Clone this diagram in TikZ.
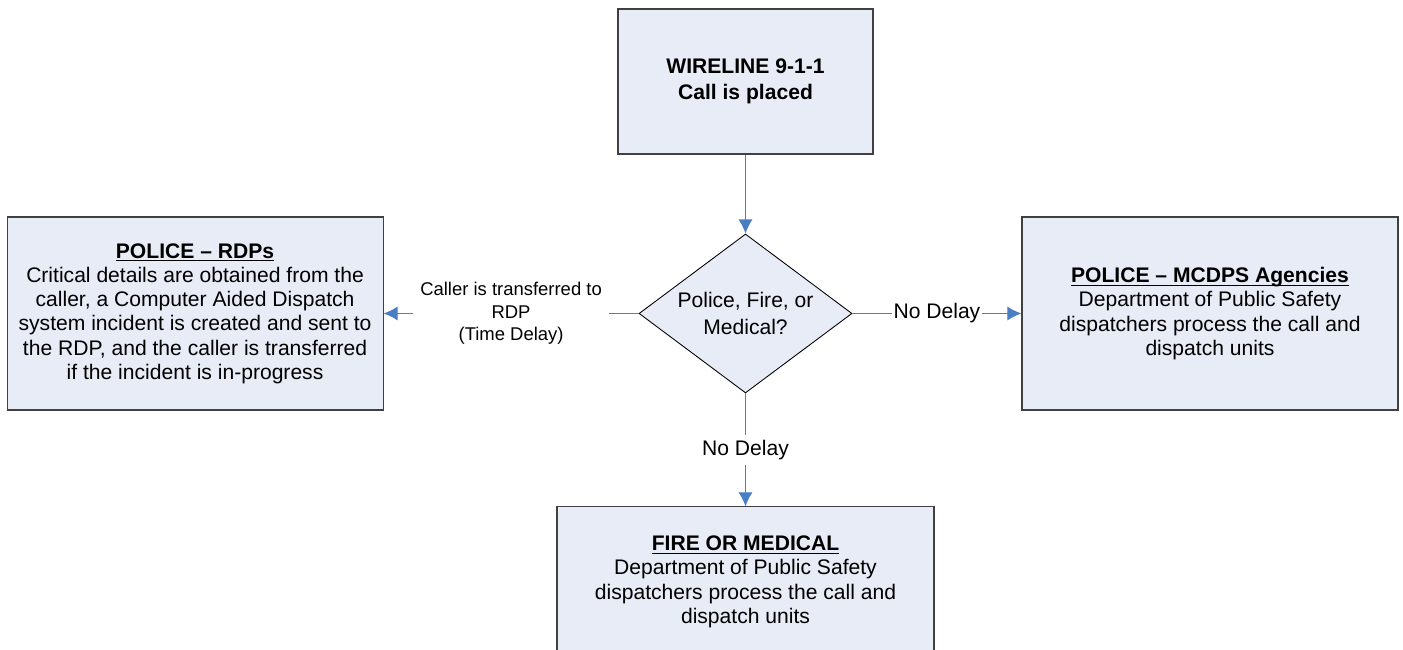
\documentclass[tikz,border=0pt]{standalone}
\usepackage{fontspec}
\setmainfont{Liberation Sans}
\usetikzlibrary{arrows.meta, positioning, shapes.geometric}
\definecolor{boxfill}{RGB}{231,236,246}
\definecolor{boxline}{RGB}{64,64,64}
\definecolor{flowblue}{RGB}{74,126,196}
\newcommand{\boxhead}[1]{\underline{\raisebox{0pt}[\height][0pt]{\textbf{#1}}}}

\begin{document}
\begin{tikzpicture}[
    box/.style={rectangle, draw=boxline, fill=boxfill, line width=0.6pt, minimum width=7.52cm, minimum height=3.86cm, align=center, font=\fontsize{12}{13.8}\selectfont},
    decision/.style={diamond, draw=black, fill=boxfill, line width=0.5pt, aspect=1.34, inner sep=0pt, minimum width=4.26cm, minimum height=3.18cm, align=center, font=\fontsize{12}{15}\selectfont},
    arrow/.style={-{Latex[length=8pt, width=8pt]}, flowblue, line width=0.6pt},
    flowlabel/.style={fill=white, inner sep=1pt, text=black, align=center, font=\fontsize{12}{14}\selectfont}
]
\useasboundingbox (0,0) rectangle (28.06,-12.98);

\node[box, minimum width=5.1cm, minimum height=2.9cm, font=\fontsize{12}{14.7}\selectfont\bfseries] (call) at (14.91,-1.63) {WIRELINE 9-1-1\\Call is placed};
\node[decision, below=1.58cm of call] (choice) {Police, Fire, or\\Medical?};

\node[box, left=5.1cm of choice] (rdp) {\boxhead{POLICE – RDPs}\\Critical details are obtained from the\\caller, a Computer Aided Dispatch\\system incident is created and sent to\\the RDP, and the caller is transferred\\if the incident is in-progress};
\node[box, right=3.38cm of choice] (mcdps) {\boxhead{POLICE – MCDPS Agencies}\\Department of Public Safety\\dispatchers process the call and\\dispatch units};
\node[box, below=2.26cm of choice, minimum width=7.54cm, minimum height=3cm] (firemed) {\boxhead{FIRE OR MEDICAL}\\Department of Public Safety\\dispatchers process the call and\\dispatch units};

\draw[arrow] (call) -- (choice);
\draw[arrow] (choice) -- (rdp) node[midway, flowlabel, inner sep=4pt, font=\fontsize{10.5}{12.75}\selectfont] {Caller is transferred to\\RDP\\(Time Delay)};
\draw[arrow] (choice) -- (mcdps) node[midway, flowlabel] {No Delay};
\draw[arrow] (choice) -- (firemed) node[midway, flowlabel, inner sep=3pt] {No Delay};

\end{tikzpicture}
\end{document}
